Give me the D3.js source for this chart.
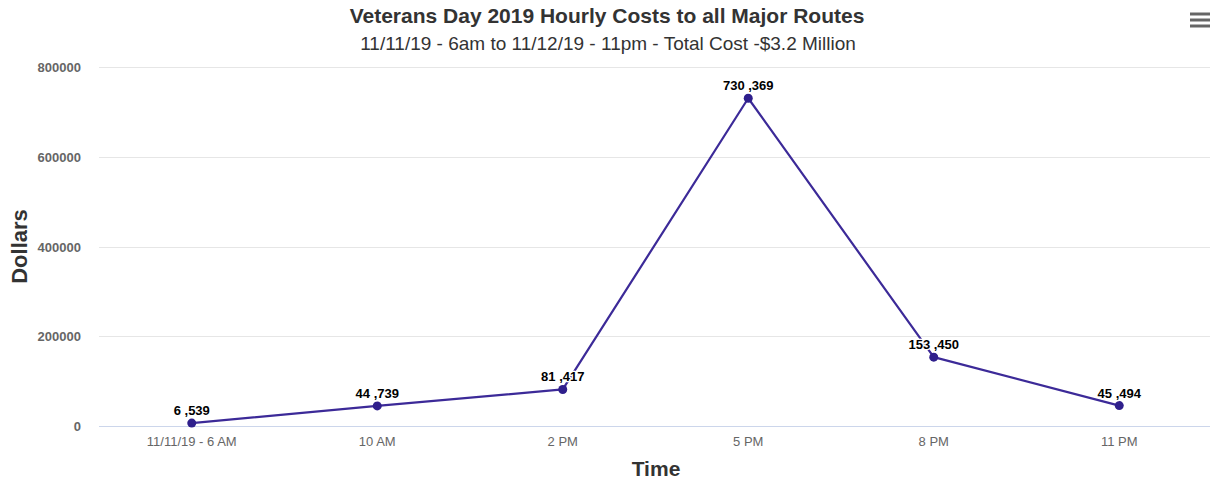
<!DOCTYPE html>
<html>
<head>
<meta charset="utf-8">
<script src="https://cdn.jsdelivr.net/npm/d3@7"></script>
<style>
  html, body { margin: 0; padding: 0; background: #fff; }
  svg { display: block; font-family: "Liberation Sans", Arial, Helvetica, sans-serif; }
</style>
</head>
<body>
<svg id="chart" width="1212" height="481"></svg>
<script>
// Hourly cost per time slot
const categories = ["11/11/19 - 6 AM", "10 AM", "2 PM", "5 PM", "8 PM", "11 PM"];
const costs = [6539, 44739, 81417, 730369, 153450, 45494];
const costLabels = ["6 ,539", "44 ,739", "81 ,417", "730 ,369", "153 ,450", "45 ,494"];
const yTicks = [0, 200000, 400000, 600000, 800000];

const titleText = "Veterans Day 2019 Hourly Costs to all Major Routes";
const subtitleText = "11/11/19 - 6am to 11/12/19 - 11pm - Total Cost -$3.2 Million";

const W = 1212, H = 481;
const plot = { left: 99, right: 1212, top: 67, bottom: 426 };

const svg = d3.select("#chart");

const x = d3.scaleBand().domain(categories).range([plot.left, plot.right]).padding(0);
const y = d3.scaleLinear().domain([0, 800000]).range([plot.bottom, plot.top]);
const cx = d => x(d) + x.bandwidth() / 2;

// Horizontal grid lines
svg.append("g")
  .selectAll("line")
  .data(yTicks.filter(t => t !== 0))
  .join("line")
  .attr("x1", plot.left).attr("x2", plot.right - 2)
  .attr("y1", d => Math.round(y(d)) + 0.5).attr("y2", d => Math.round(y(d)) + 0.5)
  .attr("stroke", "#e6e6e6").attr("stroke-width", 1);

// Y axis labels
const yAxis = svg.append("g")
  .attr("transform", `translate(${plot.left - 18},0)`)
  .call(d3.axisLeft(y).tickValues(yTicks).tickSize(0).tickPadding(0).tickFormat(d3.format("d")));
yAxis.select(".domain").remove();
yAxis.selectAll("text")
  .attr("fill", "#666").attr("font-size", "13px").attr("font-weight", "bold")
  .attr("dy", "0.35em");

// X axis line and labels
const xAxis = svg.append("g")
  .attr("transform", `translate(0,${plot.bottom})`)
  .call(d3.axisBottom(x).tickSize(0).tickPadding(11));
xAxis.select(".domain")
  .attr("stroke", "#ccd6eb")
  .attr("d", `M${plot.left},0.5H${plot.right - 2}`);
xAxis.selectAll("text")
  .attr("fill", "#666").attr("font-size", "13px");

// Axis titles
svg.append("text")
  .attr("transform", `translate(27,${(plot.top + plot.bottom) / 2}) rotate(-90)`)
  .attr("text-anchor", "middle")
  .attr("font-size", "22px").attr("font-weight", "bold").attr("fill", "#333")
  .text("Dollars");

svg.append("text")
  .attr("x", 656).attr("y", 476)
  .attr("text-anchor", "middle")
  .attr("font-size", "21px").attr("font-weight", "bold").attr("fill", "#333")
  .text("Time");

// Title and subtitle
svg.append("text")
  .attr("x", W / 2 + 1).attr("y", 23)
  .attr("text-anchor", "middle")
  .attr("font-size", "21px").attr("font-weight", "bold").attr("fill", "#333")
  .text(titleText);

svg.append("text")
  .attr("x", W / 2 + 2).attr("y", 50)
  .attr("text-anchor", "middle")
  .attr("font-size", "19px").attr("fill", "#333")
  .text(subtitleText);

// Series line
const line = d3.line()
  .x((d, i) => cx(categories[i]))
  .y(d => y(d));

svg.append("path")
  .datum(costs)
  .attr("d", line)
  .attr("fill", "none")
  .attr("stroke", "#3c2a98")
  .attr("stroke-width", 2.2)
  .attr("stroke-linejoin", "round");

// Markers
svg.append("g")
  .selectAll("circle")
  .data(costs)
  .join("circle")
  .attr("cx", (d, i) => cx(categories[i]))
  .attr("cy", d => y(d))
  .attr("r", 4.5)
  .attr("fill", "#2f1f8c");

// Data labels with white halo
svg.append("g")
  .selectAll("text")
  .data(costs)
  .join("text")
  .attr("x", (d, i) => cx(categories[i]))
  .attr("y", d => y(d) - 8)
  .attr("text-anchor", "middle")
  .attr("font-size", "13px").attr("font-weight", "bold")
  .attr("fill", "#000")
  .attr("stroke", "#fff").attr("stroke-width", 2.5)
  .attr("stroke-linejoin", "round")
  .attr("paint-order", "stroke")
  .text((d, i) => costLabels[i]);

// Context menu icon
svg.append("g")
  .selectAll("line")
  .data([0, 1, 2])
  .join("line")
  .attr("x1", 1190).attr("x2", 1210)
  .attr("y1", d => 14 + d * 6).attr("y2", d => 14 + d * 6)
  .attr("stroke", "#666").attr("stroke-width", 3);
</script>
</body>
</html>
